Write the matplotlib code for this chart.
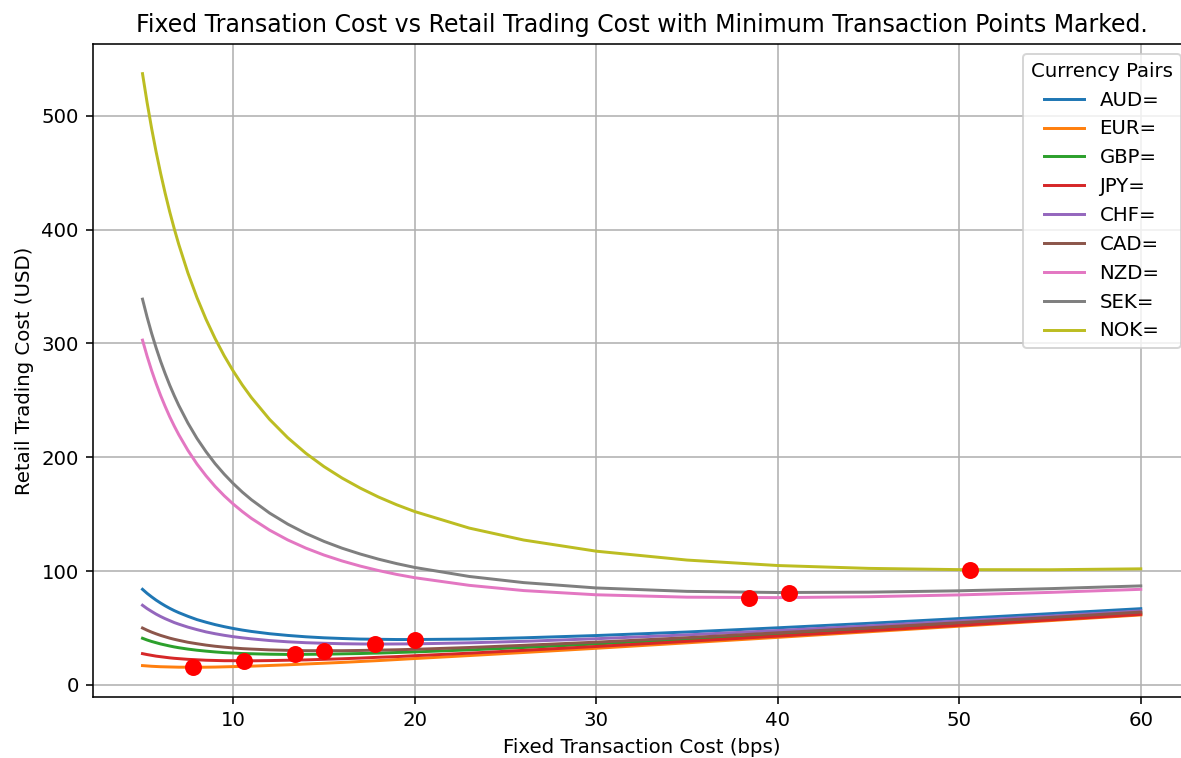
import matplotlib
matplotlib.use("Agg")
import matplotlib.pyplot as plt

# Fixed transaction cost grid (bps)
fixed_cost = [5, 5.25, 5.5, 5.75, 6, 6.25, 6.5, 6.75, 7, 7.5, 8, 8.5, 9, 9.5, 10, 10.5, 11,
              12, 13, 14, 15, 16, 17, 18, 19, 20, 23, 26, 30, 35, 40, 45, 50, 55, 60]

pairs = ["AUD=", "EUR=", "GBP=", "JPY=", "CHF=", "CAD=", "NZD=", "SEK=", "NOK="]

# Retail trading cost (USD) per currency pair along the grid
aud = [84.0, 80.5, 77.4, 74.5, 71.9, 69.5, 67.3, 65.3, 63.5, 60.3, 57.4, 55.1, 53.0, 51.2,
       49.6, 48.2, 47.0, 45.0, 43.5, 42.3, 41.4, 40.8, 40.3, 40.1, 39.9, 39.9, 40.3, 41.4,
       43.4, 46.5, 50.2, 54.1, 58.3, 62.6, 67.0]
eur = [17.0, 16.7, 16.4, 16.2, 16.0, 15.9, 15.8, 15.7, 15.6, 15.6, 15.5, 15.6, 15.7, 15.9,
       16.1, 16.3, 16.5, 17.1, 17.7, 18.4, 19.1, 19.8, 20.6, 21.4, 22.3, 23.2, 25.8, 28.5,
       32.2, 37.0, 41.8, 46.7, 51.6, 56.5, 61.5]
gbp = [41.0, 39.5, 38.2, 37.1, 36.0, 35.1, 34.2, 33.4, 32.7, 31.5, 30.5, 29.7, 29.0, 28.4,
       28.0, 27.6, 27.4, 27.0, 26.8, 26.9, 27.0, 27.3, 27.6, 28.0, 28.5, 29.0, 30.8, 32.9,
       36.0, 40.1, 44.5, 49.0, 53.6, 58.3, 63.0]
jpy = [27.5, 26.7, 26.0, 25.3, 24.8, 24.3, 23.8, 23.4, 23.1, 22.5, 22.1, 21.7, 21.5, 21.3,
       21.3, 21.2, 21.2, 21.4, 21.7, 22.0, 22.5, 23.0, 23.6, 24.3, 24.9, 25.7, 27.9, 30.4,
       33.8, 38.3, 42.9, 47.6, 52.4, 57.1, 62.0]
chf = [70.0, 67.1, 64.6, 62.2, 60.1, 58.2, 56.5, 54.8, 53.4, 50.8, 48.6, 46.6, 45.0, 43.6,
       42.4, 41.4, 40.5, 39.0, 37.9, 37.1, 36.6, 36.2, 36.0, 35.9, 36.0, 36.1, 37.0, 38.3,
       40.6, 44.0, 47.8, 51.9, 56.2, 60.5, 65.0]
cad = [50.0, 48.1, 46.4, 44.9, 43.5, 42.3, 41.1, 40.1, 39.2, 37.5, 36.2, 35.0, 34.0, 33.2,
       32.5, 31.9, 31.5, 30.8, 30.4, 30.1, 30.1, 30.1, 30.3, 30.6, 30.9, 31.3, 32.9, 34.8,
       37.6, 41.5, 45.8, 50.2, 54.7, 59.3, 64.0]
nzd = [302.9, 289.0, 276.3, 264.8, 254.2, 244.6, 235.6, 227.4, 219.8, 206.1, 194.1, 183.7,
       174.4, 166.2, 158.9, 152.3, 146.3, 136.0, 127.4, 120.2, 114.1, 108.9, 104.4, 100.5,
       97.1, 94.2, 87.5, 82.9, 79.2, 77.1, 76.7, 77.5, 79.1, 81.3, 84.0]
sek = [338.9, 323.3, 309.0, 296.1, 284.2, 273.4, 263.3, 254.1, 245.5, 230.1, 216.6, 204.9,
       194.4, 185.2, 176.9, 169.4, 162.7, 151.0, 141.3, 133.1, 126.1, 120.1, 115.0, 110.5,
       106.6, 103.2, 95.3, 89.9, 85.2, 82.2, 81.2, 81.5, 82.7, 84.6, 87.0]
nok = [537.0, 511.9, 489.1, 468.3, 449.3, 431.8, 415.6, 400.7, 386.9, 362.0, 340.3, 321.2,
       304.3, 289.2, 275.7, 263.5, 252.5, 233.3, 217.2, 203.5, 191.8, 181.7, 172.9, 165.1,
       158.3, 152.3, 137.8, 127.3, 117.5, 109.7, 104.9, 102.4, 101.3, 101.2, 102.0]

# Minimum-cost point of each pair
min_cost_x = [20.0, 7.8, 13.4, 10.6, 17.8, 15.0, 38.4, 40.6, 50.6]
min_cost_y = [39.9, 15.5, 26.8, 21.2, 35.9, 30.1, 76.7, 81.2, 101.0]

series = [aud, eur, gbp, jpy, chf, cad, nzd, sek, nok]

DPI = 142
fig = plt.figure(figsize=(1181 / DPI, 758 / DPI), dpi=DPI)
ax = fig.add_axes([0.0784, 0.0805, 0.9298, 0.8615])

for name, values in zip(pairs, series):
    ax.plot(fixed_cost, values, label=name)

ax.plot(min_cost_x, min_cost_y, "o", color="red", markersize=7.6, zorder=5)

ax.set_title("Fixed Transation Cost vs Retail Trading Cost with Minimum Transaction Points Marked.")
ax.set_xlabel("Fixed Transaction Cost (bps)")
ax.set_ylabel("Retail Trading Cost (USD)")
ax.grid(True)
ax.legend(title="Currency Pairs", loc="upper right")

fig.savefig("out.png", dpi=DPI)
